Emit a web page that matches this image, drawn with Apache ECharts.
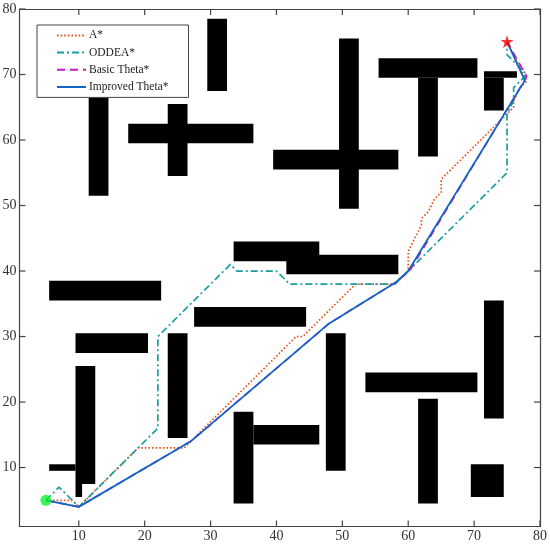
<!DOCTYPE html>
<html><head><meta charset="utf-8">
<style>html,body{margin:0;padding:0;background:#fff}#c{width:550px;height:547px}</style>
<script src="https://cdn.jsdelivr.net/npm/echarts@6/dist/echarts.min.js"></script>
</head><body><div id="c"></div>
<script>
const tickValues = [10,20,30,40,50,60,70,80];
const obstacles = [
 [29.5,67.5,32.5,78.5],[11.5,51.5,14.5,70.5],[17.5,59.5,36.5,62.5],[23.5,54.5,26.5,65.5],
 [49.5,49.5,52.5,75.5],[39.5,55.5,58.5,58.5],[55.5,69.5,70.5,72.5],[61.5,57.5,64.5,69.5],
 [71.5,69.5,76.5,70.5],[71.5,64.5,74.5,69.5],[33.5,41.5,46.5,44.5],[41.5,39.5,58.5,42.5],
 [5.5,35.5,22.5,38.5],[27.5,31.5,44.5,34.5],[9.5,27.5,20.5,30.5],[23.5,14.5,26.5,30.5],
 [47.5,9.5,50.5,30.5],[33.5,4.5,36.5,18.5],[36.5,13.5,46.5,16.5],[9.5,7.5,12.5,25.5],
 [9.5,5.5,10.5,7.5],[5.5,9.5,9.5,10.5],[53.5,21.5,70.5,24.5],[61.5,4.5,64.5,20.5],
 [71.5,17.5,74.5,35.5],[69.5,5.5,74.5,10.5]
];
const aStar = [[5,5],[9,5],[10,4],[19,13],[26,13],[43,30],[44,30],[52,38],[58,38],[60,40],[60,43],[61,45],[62,47],[62,48],[63,49],[64,51],[65,52],[65,54],[74,63],[76,65],[76,66],[77,68],[78,69],[77,71],[75,75]];
const oddea = [[5,5],[7,7],[10,4],[22,16],[22,30],[33,41],[34,40],[40,40],[42,38],[58,38],[60,40],[75,55],[75,64],[76,66],[76,68],[78,70],[75,73],[75,75]];
const basicTheta = [[5,5],[10,4],[27,14],[48,32],[58,38.2],[60.2,40],[78,69.7],[75,75]];
const improvedTheta = [[5,5],[10,4],[27,14],[48,32],[58,38.2],[60,40],[77.7,69.1],[75,75]];
const startPoint = [[5,5]];
const goalPoint = [[75,75]];

const fontFamily = '"Liberation Serif","Times New Roman",serif';
const axisColor = '#444';
const mkAxis = (pos, labels) => ({
  type:'value', position:pos, min:1, max:80, splitLine:{show:false},
  axisLine:{show:true,onZero:false,lineStyle:{color:axisColor,width:1.2}},
  axisTick:{show:false},
  axisLabel:{show:labels,customValues:tickValues,color:'#333',fontFamily,fontSize:14,margin:3}
});
const lineSeries = (name,data,color,type,width,z) => ({
  name,type:'line',data,showSymbol:false,symbol:'none',z,
  lineStyle:{color,type,width},itemStyle:{color}
});
const tickLen = 6;
const tickData = [];
[0,1,2,3].forEach(side => tickValues.forEach(v => tickData.push([v,side])));
const chart = echarts.init(document.getElementById('c'),null,{renderer:'canvas'});
chart.setOption({
  animation:false,
  backgroundColor:'#fff',
  grid:{left:19.5,right:10,top:9,bottom:20.5,outerBoundsMode:'none'},
  xAxis:[mkAxis('bottom',true),mkAxis('top',false)],
  yAxis:[mkAxis('left',true),mkAxis('right',false)],
  legend:{
    data:['A*','ODDEA*','Basic Theta*','Improved Theta*'],
    orient:'vertical',left:37,top:25,
    backgroundColor:'#fff',borderColor:'#444',borderWidth:1,
    padding:[4.4,20,4.4,19],itemWidth:29,itemHeight:14,itemGap:5.2,
    itemStyle:{opacity:0},
    textStyle:{fontFamily,fontSize:11.5,color:'#222',padding:[0,0,0,-2]},
    z:20
  },
  series:[
    {type:'custom',name:'Ticks',z:2,silent:true,clip:false,data:tickData,
     renderItem:(p,api)=>{
       const v=api.value(0),s=api.value(1),c=p.coordSys;
       let pt,shape;
       if(s===0){pt=api.coord([v,1]);shape={x1:pt[0],y1:c.y+c.height,x2:pt[0],y2:c.y+c.height-tickLen};}
       else if(s===1){pt=api.coord([v,1]);shape={x1:pt[0],y1:c.y,x2:pt[0],y2:c.y+tickLen};}
       else if(s===2){pt=api.coord([1,v]);shape={x1:c.x,y1:pt[1],x2:c.x+tickLen,y2:pt[1]};}
       else {pt=api.coord([1,v]);shape={x1:c.x+c.width,y1:pt[1],x2:c.x+c.width-tickLen,y2:pt[1]};}
       return {type:'line',shape,style:{stroke:axisColor,lineWidth:1.2}};
     },encode:{x:0}},
    {type:'custom',name:'Obstacles',z:1,data:obstacles,
     renderItem:(p,api)=>{
       const a=api.coord([api.value(0),api.value(3)]),b=api.coord([api.value(2),api.value(1)]);
       return {type:'rect',shape:{x:a[0],y:a[1],width:b[0]-a[0],height:b[1]-a[1]},style:{fill:'#000'}};
     },encode:{x:[0,2],y:[1,3]}},
    lineSeries('A*',aStar,'#e4571f',[1.6,2],1.7,3),
    lineSeries('ODDEA*',oddea,'#1a9f9f',[7,3,2,3],1.7,4),
    lineSeries('Basic Theta*',basicTheta,'#c218c8',[8,5],1.7,5),
    lineSeries('Improved Theta*',improvedTheta,'#1166c4','solid',1.8,6),
    {type:'scatter',name:'Start',data:startPoint,symbol:'circle',symbolSize:11,z:7,itemStyle:{color:'#0ef030'}},
    {type:'scatter',name:'Goal',data:goalPoint,symbol:'path://M50 0 L61.8 35.5 L100 35.5 L69 57.5 L80.9 95 L50 72 L19.1 95 L31 57.5 L0 35.5 L38.2 35.5 Z',symbolSize:13,z:7,itemStyle:{color:'#ff0000'}}
  ]
});
</script></body></html>
